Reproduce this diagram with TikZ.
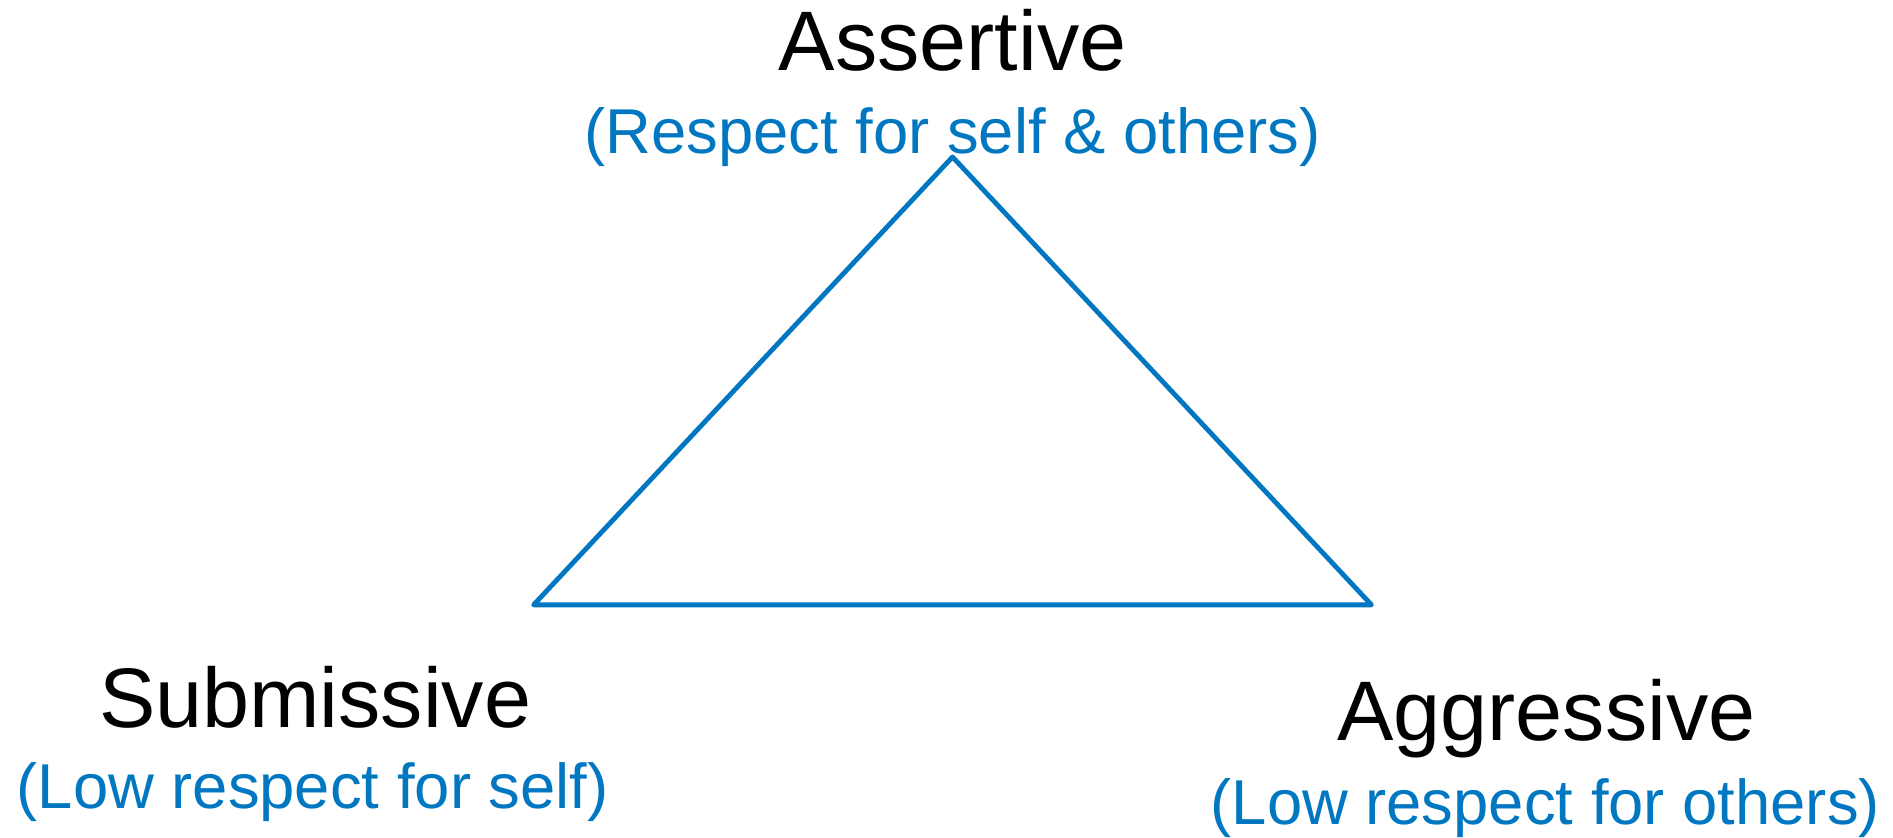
\documentclass[tikz,border=0pt]{standalone}
\usepackage{fontspec}
\setmainfont{Liberation Sans}
\definecolor{lineblue}{HTML}{0077C0}
\begin{document}
\begin{tikzpicture}[x=1pt,y=-1pt,
  title/.style={anchor=base,inner sep=0pt,text=black,font=\fontsize{70}{84}\selectfont},
  sub/.style={anchor=base,inner sep=0pt,text=lineblue,font=\fontsize{52.5}{63}\selectfont},
  edge/.style={draw=lineblue,line width=4pt,line join=round,line cap=round}]
\useasboundingbox (0,0) rectangle (1568,694);
\coordinate (top) at (789,130);
\coordinate (bl) at (442,501);
\coordinate (br) at (1136,501);
\draw[edge] (top) -- (br) -- (bl) -- cycle;
\node[title] (ast) at (789,58) {Assertive};
\node[sub] (asts) at (789,127) {(Respect for self \& others)};
\node[title] (sub) at (261,603) {Submissive};
\node[sub] (subs) at (259,670) {(Low respect for self)};
\node[title] (agg) at (1281,613) {Aggressive};
\node[sub] (aggs) at (1280,683) {(Low respect for others)};
\end{tikzpicture}
\end{document}
